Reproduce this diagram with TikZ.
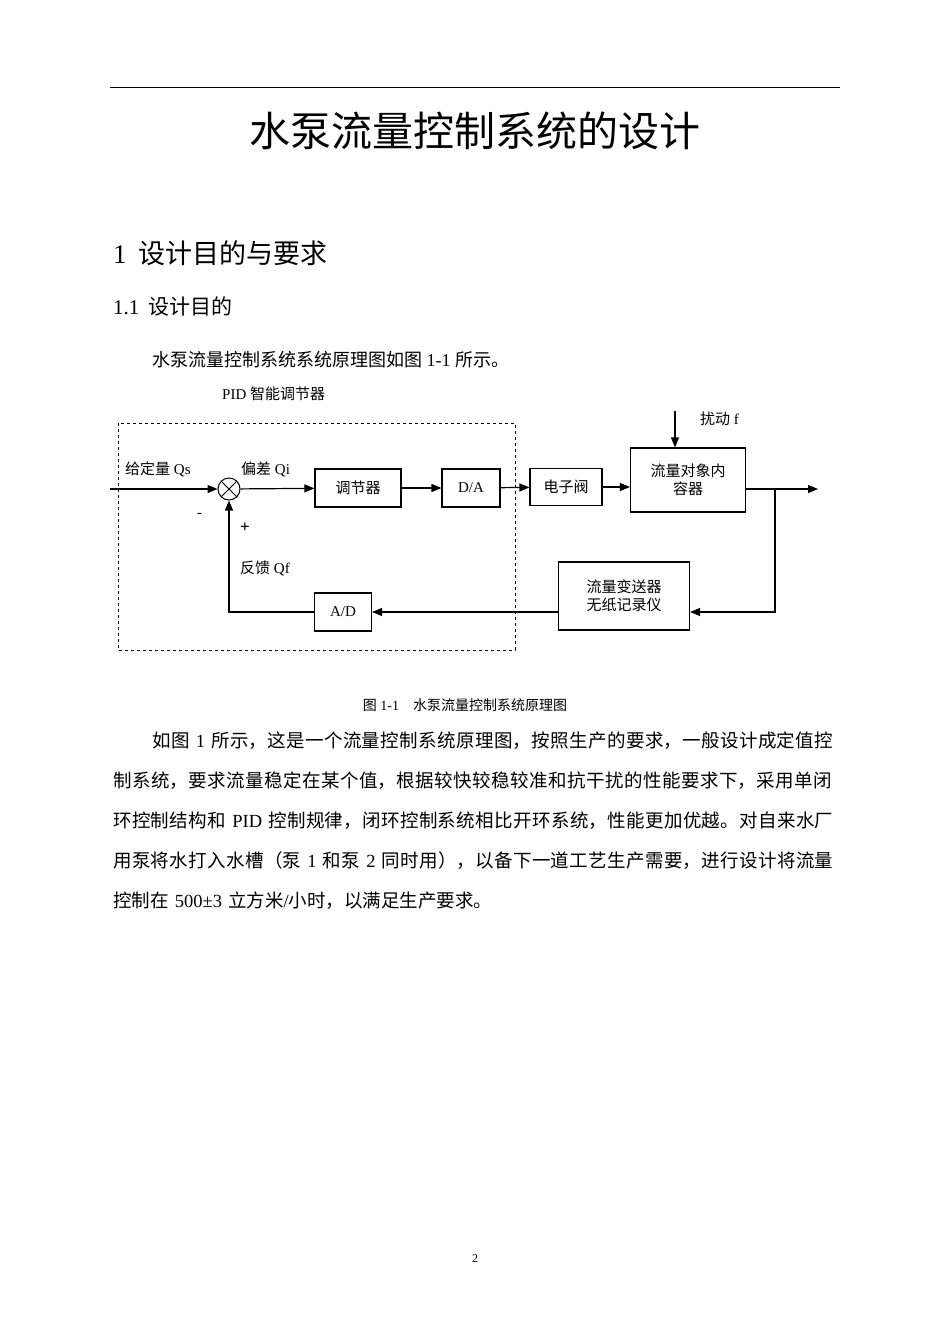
\documentclass[tikz,border=0pt]{standalone}
\usepackage{fontspec}
\setmainfont{Liberation Serif}
\newfontfamily\cjk{Noto Sans CJK SC}
\newcommand\C[1]{{\cjk #1}}
\usetikzlibrary{arrows.meta}
\begin{document}
\begin{tikzpicture}[x=1pt,y=-1pt,
  blk/.style={draw,line width=1.2pt,minimum height=38pt,font=\fontsize{15}{18}\selectfont\cjk},
  arr/.style={-{Triangle[length=10pt,width=8pt]},line width=1.2pt},
  lab/.style={font=\fontsize{15}{18}\selectfont,anchor=west,inner sep=0pt}]
\useasboundingbox[fill=white] (0,0) rectangle (950,1344);
\draw[line width=1pt] (110,87) -- (840,87);
\node[font=\fontsize{41}{46}\selectfont\cjk] (title) at (475,131) {水泵流量控制系统的设计};
\node[anchor=west,inner sep=0,font=\fontsize{27}{30}\selectfont] (h1) at (113,253) {1\hspace{12pt}\C{设计目的与要求}};
\node[anchor=west,inner sep=0,font=\fontsize{21}{24}\selectfont] (h2) at (113,307) {1.1\hspace{9pt}\C{设计目的}};
\node[anchor=west,inner sep=0,font=\fontsize{18}{20}\selectfont] (p0) at (152,360) {\C{水泵流量控制系统系统原理图如图} 1-1 \C{所示。}};
% diagram
\node[lab] (pid) at (222,394) {PID \C{智能调节器}};
\draw[dashed,line width=0.8pt] (118,423) rectangle (515,650);
\coordinate (in) at (110,489);
\node[draw,circle,line width=1pt,minimum size=22pt,inner sep=0] (sum) at (229,489) {};
\draw[line width=0.8pt] (sum.north west) -- (sum.south east) (sum.north east) -- (sum.south west);
\node[lab] (qs) at (125,469) {\C{给定量} Qs};
\node[lab] (qi) at (241,469) {\C{偏差} Qi};
\node[blk,minimum width=86pt] (ctl) at (358,488) {调节器};
\node[blk,minimum width=58pt,font=\fontsize{15}{18}\selectfont] (da) at (471,488) {D/A};
\node[blk,minimum width=72pt,minimum height=37pt] (valve) at (566,487) {电子阀};
\node[blk,minimum width=115pt,minimum height=64pt,align=center] (plant) at (688,480) {流量对象内\\容器};
\coordinate (out) at (818,489);
\coordinate (br) at (775,489);
\coordinate (dist) at (675,411);
\node[lab] (f) at (700,419) {\C{扰动} f};
\node[blk,minimum width=131pt,minimum height=68pt,align=center] (sens) at (624,596) {流量变送器\\无纸记录仪};
\node[blk,minimum width=57pt,font=\fontsize{15}{18}\selectfont] (ad) at (343,612) {A/D};
\node[lab] (minus) at (197,515) {-};
\node[lab,font=\fontsize{17}{18}\selectfont\bfseries] (plus) at (240,528) {+};
\node[lab] (qf) at (240,568) {\C{反馈} Qf};
\draw[arr] (in) -- (sum);
\draw[arr] (sum) -- (ctl);
\draw[arr] (ctl) -- (da);
\draw[arr] (da) -- (valve);
\draw[arr] (valve) -- (plant.west |- valve);
\draw[arr] (plant.east |- out) -- (out);
\draw[arr] (dist) -- (plant.north -| dist);
\draw[arr] (br) |- (sens.east |- ad);
\draw[arr] (sens.west |- ad) -- (ad);
\draw[arr] (ad.west) -| (sum.south);
\node[font=\fontsize{14}{17}\selectfont] (cap) at (465,705) {\C{图} 1-1\hspace{14pt}\C{水泵流量控制系统原理图}};
% paragraph
\node[anchor=north west,inner sep=0,text width=725pt,font=\fontsize{18.5}{40}\selectfont] (para) at (113,732) {\XeTeXlinebreaklocale "zh"\XeTeXlinebreakskip=0pt plus 3pt
\hspace*{39pt}\C{如图} 1 \C{所示，这是一个流量控制系统原理图，按照生产的要求，一般设计成定值控}\linebreak
\C{制系统，要求流量稳定在某个值，根据较快较稳较准和抗干扰的性能要求下，采用单闭}\linebreak
\C{环控制结构和} PID \C{控制规律，闭环控制系统相比开环系统，性能更加优越。对自来水厂}\linebreak
\C{用泵将水打入水槽（泵} 1 \C{和泵} 2 \C{同时用），以备下一道工艺生产需要，进行设计将流量}\linebreak
\C{控制在} 500±3 \C{立方米}/\C{小时，以满足生产要求。}};
\node[font=\fontsize{12}{14}\selectfont] (pg) at (475,1259) {2};
\end{tikzpicture}
\end{document}
